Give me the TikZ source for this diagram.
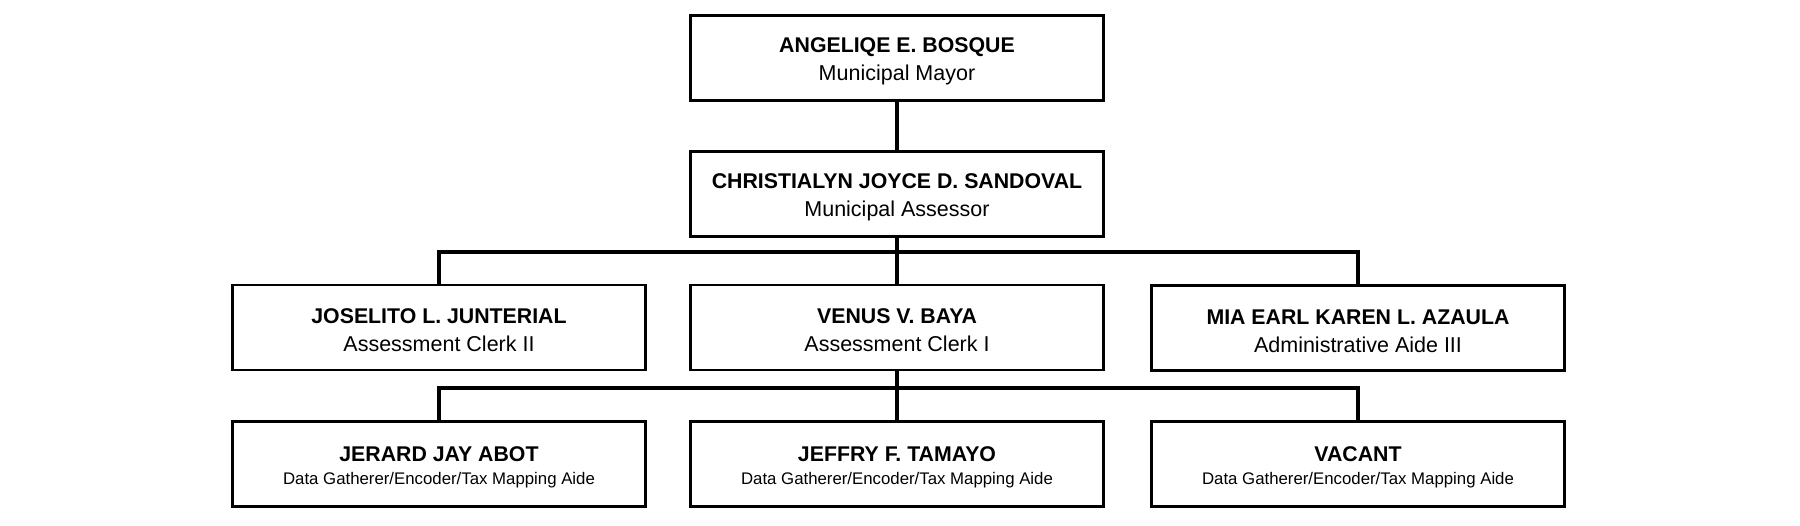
\documentclass[tikz,border=0pt]{standalone}
\usepackage{fontspec}
\setmainfont{Liberation Sans}
\begin{document}
\begin{tikzpicture}[x=1pt,y=-1pt,
  box/.style={draw=black,line width=2.2pt,fill=white,minimum width=413pt,minimum height=85pt,inner sep=0pt,align=center,
     font=\fontsize{21.5}{28}\selectfont},
  smallbox/.style={box,font=\fontsize{16.8}{23}\selectfont},
  conn/.style={line width=3.4pt,line cap=rect}]
\useasboundingbox (0,0) rectangle (1800,526);
\newcommand{\nm}[1]{{\fontsize{21.3}{24}\selectfont\bfseries\rule{0pt}{20.5pt}#1}}
\node[box] (mayor) at (897,58) {\nm{ANGELIQE E. BOSQUE}\\Municipal Mayor};
\node[box] (assessor) at (897,194) {\nm{CHRISTIALYN JOYCE D. SANDOVAL}\\Municipal Assessor};
\node[box] (clerk2) at (439,327.5) {\nm{JOSELITO L. JUNTERIAL}\\Assessment Clerk II};
\node[box] (clerk1) at (897,327.5) {\nm{VENUS V. BAYA}\\Assessment Clerk I};
\node[box] (aide) at (1358,328) {\nm{MIA EARL KAREN L. AZAULA}\\Administrative Aide III};
\node[smallbox] (abot) at (439,464) {\nm{JERARD JAY ABOT}\\Data Gatherer/Encoder/Tax Mapping Aide};
\node[smallbox] (tamayo) at (897,464) {\nm{JEFFRY F. TAMAYO}\\Data Gatherer/Encoder/Tax Mapping Aide};
\node[smallbox] (vacant) at (1358,464) {\nm{VACANT}\\Data Gatherer/Encoder/Tax Mapping Aide};
\coordinate (bus1) at (897,252);
\coordinate (bus2) at (897,388);
\draw[conn] (mayor.south) -- (assessor.north);
\draw[conn] (assessor.south) -- (clerk1.north);
\draw[conn] (clerk2.north) |- (bus1) -| (aide.north);
\draw[conn] (clerk1.south) -- (tamayo.north);
\draw[conn] (abot.north) |- (bus2) -| (vacant.north);
\end{tikzpicture}
\end{document}
